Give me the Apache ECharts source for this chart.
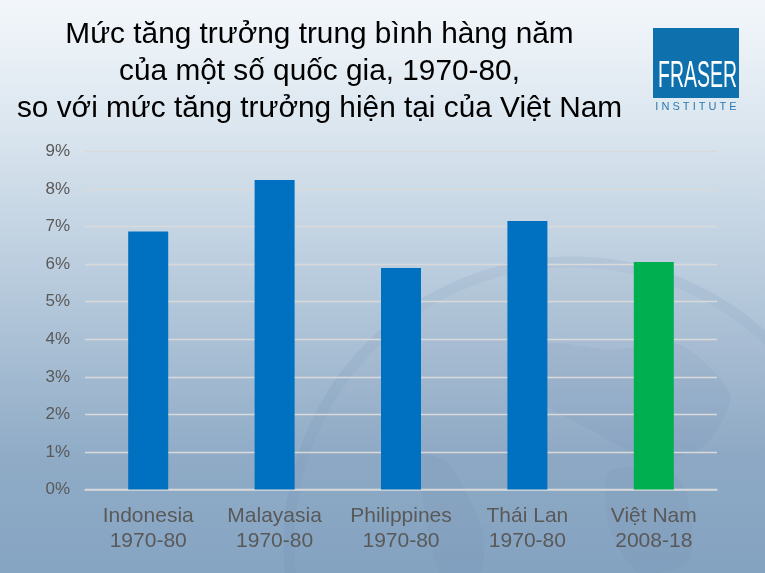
<!DOCTYPE html>
<html><head><meta charset="utf-8">
<style>html,body{margin:0;padding:0;width:765px;height:573px;overflow:hidden}#c{width:765px;height:573px}</style>
<script src="https://cdn.jsdelivr.net/npm/echarts@6/dist/echarts.min.js"></script>
</head><body><div id="c"></div>
<script>
const countries = ['Indonesia','Malayasia','Philippines','Thái Lan','Việt Nam'];
const periods = ['1970-80','1970-80','1970-80','1970-80','2008-18'];
const growth = [6.87,8.24,5.90,7.15,6.06];
const barColors = ['#0070c0','#0070c0','#0070c0','#0070c0','#00b050'];
const yTicks = [0,1,2,3,4,5,6,7,8,9];
const titleLines = ['Mức tăng trưởng trung bình hàng năm','của một số quốc gia, 1970-80,','so với mức tăng trưởng hiện tại của Việt Nam'];

const font = '"Liberation Sans", Arial, sans-serif';
const land = (pts,a)=>({type:'polygon',z:-9,silent:true,shape:{points:pts,smooth:0.25},style:{fill:'rgba(70,105,145,'+(a||0.06)+')'}});
const chart = echarts.init(document.getElementById('c'),null,{renderer:'canvas'});
chart.setOption({
  animation:false,
  backgroundColor:{type:'linear',x:0,y:0,x2:0,y2:1,colorStops:[
    {offset:0,color:'#f3f7fb'},{offset:0.22,color:'#dbe6ef'},{offset:0.5,color:'#b7cadc'},{offset:0.8,color:'#8fabc6'},{offset:1,color:'#86a5c3'}]},
  grid:{left:85,right:48,top:151.5,bottom:83.5,containLabel:false},
  xAxis:{type:'category',data:countries.map((c,i)=>c+'\n'+periods[i]),
    axisTick:{show:false},
    axisLine:{lineStyle:{color:'#d5d8dc',width:1.5}},
    axisLabel:{color:'#595959',fontFamily:font,fontSize:21,lineHeight:25,margin:14,interval:0}},
  yAxis:{type:'value',min:0,max:9,interval:1,
    axisLine:{show:false},axisTick:{show:false},
    axisLabel:{color:'#595959',fontFamily:font,fontSize:17,margin:15,formatter:v=>yTicks[v]+'%'},
    splitLine:{lineStyle:{color:'#d9d9d9',width:1.3}}},
  series:[{type:'bar',barWidth:40,
    data:growth.map((v,i)=>({value:v,itemStyle:{color:barColors[i]}}))}],
  graphic:[
    {type:'circle',z:-10,silent:true,shape:{cx:572,cy:545,r:283},style:{fill:'none',stroke:'rgba(80,110,150,0.09)',lineWidth:11}},
    {type:'circle',z:-10,silent:true,shape:{cx:572,cy:545,r:277},style:{fill:'rgba(70,100,140,0.025)'}},
    land([[545,345],[610,350],[680,345],[730,395],[705,445],[650,460],[600,435],[535,395]]),
    land([[610,470],[680,480],[690,560],[640,573],[610,530]],0.05),
    land([[420,455],[450,465],[482,530],[480,573],[440,573]],0.05),
    {type:'text',z:10,silent:true,style:{x:319.5,y:35,text:titleLines[0],fill:'#000',font:'29.8px '+font,align:'center',verticalAlign:'middle'}},
    {type:'text',z:10,silent:true,style:{x:319.5,y:72,text:titleLines[1],fill:'#000',font:'29.8px '+font,align:'center',verticalAlign:'middle'}},
    {type:'text',z:10,silent:true,style:{x:319.5,y:109,text:titleLines[2],fill:'#000',font:'29.8px '+font,align:'center',verticalAlign:'middle'}},
    {type:'rect',z:10,silent:true,shape:{x:653,y:28,width:86,height:70},style:{fill:'#0f70ae'}},
    {type:'text',z:11,silent:true,x:697.5,y:77,scaleX:0.54,style:{x:0,y:0,text:'FRASER',fill:'#fff',font:'36px '+font,align:'center',verticalAlign:'middle'}},
    {type:'text',z:11,silent:true,style:{x:696,y:107,text:'I N S T I T U T E',fill:'#2a7ab0',font:'11px '+font,align:'center',verticalAlign:'middle'}}
  ]
});
</script></body></html>
